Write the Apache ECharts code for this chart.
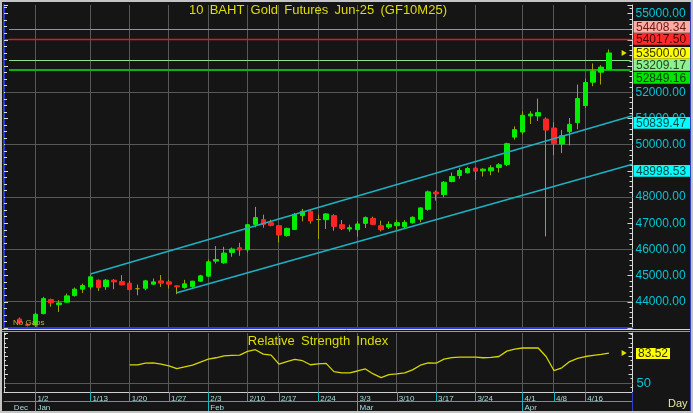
<!DOCTYPE html>
<html>
<head>
<meta charset="utf-8">
<script src="https://cdn.jsdelivr.net/npm/echarts@6/dist/echarts.min.js"></script>
<style>
html,body{margin:0;padding:0;background:#151515;}
#c{width:693px;height:413px;}
</style>
</head>
<body>
<div id="c"></div>
<script>
// ---------------- data ----------------
const dates = ['12/27','12/30','1/2','1/3','1/6','1/7','1/8','1/9','1/10','1/13','1/14','1/15','1/16','1/17','1/20','1/21','1/22','1/23','1/24','1/27','1/28','1/29','1/30','1/31','2/3','2/4','2/5','2/6','2/7','2/10','2/11','2/13','2/14','2/17','2/18','2/19','2/20','2/21','2/24','2/25','2/26','2/27','2/28','3/3','3/4','3/5','3/6','3/7','3/10','3/11','3/12','3/13','3/14','3/17','3/18','3/19','3/20','3/21','3/24','3/25','3/26','3/27','3/28','3/31','4/1','4/2','4/3','4/4','4/8','4/9','4/10','4/11','4/16','4/17','4/18','4/21'];
const leadPad = ['p1','p2'];
const tailPad = ['t1','t2','t3'];

const open = [43344,43140,43114,43547,44084,43892,43984,44237,44482,44570,
 44826,44581,44826,44773,44711,44500,44517,44672,44800,44761,
 44609,44543,44581,44787,44979,45553,45489,45885,46064,45987,
 46956,47136,47020,46906,46524,46764,47289,47455,47140,47136,
 47290,46944,46780,46753,46994,47187,46906,46854,46906,46868,
 47020,47149,47531,48185,48094,48592,48822,48925,49101,48999,
 48999,49128,49242,50288,50481,51093,51093,50978,50633,50023,
 50495,50840,51491,52383,52766,52881];
const close = [43190,43100,43524,44122,43958,43957,44225,44482,44620,44953,
 44543,44826,44761,44646,44466,44500,44800,44761,44711,44672,
 44570,44685,44787,44991,45527,45616,45861,46013,45975,46944,
 47213,46956,46918,46550,46803,47340,47455,47085,47140,47354,
 46880,46803,46830,46971,47213,46956,46753,46956,47020,47033,
 47225,47584,48197,48120,48565,48783,49013,49089,48986,49063,
 49116,49231,50035,50571,51119,51170,51221,50556,50035,50342,
 50774,51758,52371,52804,52958,53500];
const low = [43150,43060,43038,43524,43815,43612,43970,44202,44340,44466,
 44417,44455,44482,44630,44440,44250,44440,44660,44570,44505,
 44290,44500,44493,44760,44953,45462,45450,45719,45757,45884,
 46841,46829,46880,46267,46490,46740,47072,46983,46397,46780,
 46715,46742,46676,46485,46818,46930,46688,46780,46753,46780,
 46980,47034,47480,47864,47990,48560,48695,48900,48656,48783,
 48833,48936,49177,50188,50391,50786,50901,46496,49600,49675,
 49970,50583,51400,52230,52294,52855];
const high = [43400,43170,43585,44187,44122,44061,44313,44543,44696,45030,
 44850,44864,44864,45018,44800,44660,44838,44889,45018,44838,
 44620,44838,44800,45030,45616,46129,46102,46070,46255,46971,
 47622,47327,47136,46930,46830,47392,47545,47490,47327,47380,
 47340,47125,46944,47072,47260,47250,47098,47072,47136,47120,
 47264,47600,48247,48247,48603,48936,49116,49154,49150,49101,
 49215,49292,50074,50698,51272,51272,51758,51040,50851,50556,
 51016,52294,52525,53099,53034,53635];

const rsiStart = '1/20';
const rsiValues = [70.3,70.3,72.2,72.6,71.1,69.2,66.2,68.1,70.0,73.5,
 76.7,78.3,80.5,81.0,81.3,85.4,87.3,82.4,81.3,71.1,
 74.0,76.5,75.0,70.5,71.5,72.0,62.8,61.5,61.5,63.5,
 65.8,60.2,56.1,59.5,60.2,61.5,64.7,70.0,72.6,72.2,
 76.7,78.5,79.0,79.0,79.0,78.3,78.8,79.7,85.7,88.0,
 89.2,89.2,89.2,79.7,64.0,67.0,74.0,77.5,79.7,81.0,
 82.0,83.52];

const upperChannelDates = ['1/13','t3'];
const upperChannelValues = [45061, 51100];
const lowerChannelDates = ['1/28','t3'];
const lowerChannelValues = [44347, 49250];
const channelLabelValues = [50839.47, 48998.53];

const priceLevels = [54408.34, 54017.50, 53209.17, 52849.16];
const priceGridLevels = [44000, 46000, 48000, 50000, 52000, 54000];
const weekLabels = ['1/2','1/13','1/20','1/27','2/3','2/10','2/17','2/24','3/3','3/10','3/17','3/24','4/1','4/8','4/16'];
const monthStarts = ['1/2','2/3','3/3','4/1'];
const monthNames = ['Jan','Feb','Mar','Apr'];
const firstMonthName = 'Dec';
const priceTickMin = 44000;
const rsiTickLabel = 50;

// ---------------- styles ----------------
const FONT = '"Liberation Sans", Arial, sans-serif';
const levelStyles = [
  {line:'#c08080', w:1, bg:'#ffaca2', fg:'#6a1a1a'},
  {line:'#d02222', w:1.5, bg:'#ff2b2b', fg:'#4a0000'},
  {line:'#8ee08e', w:1, bg:'#90ef90', fg:'#1c4a1c'},
  {line:'#10b010', w:2, bg:'#00e400', fg:'#003800'}
];
const lastStyle = {bg:'#ffff00', fg:'#333300'};
const channelStyle = {line:'#1cb2c2', bg:'#00ffff', fg:'#004a4a'};
const WICK = '#a3a300', UP = '#00ee00', DOWN = '#ff2424';
const GRIDC = '#585858', CYAN = '#00c6d6', TICKC = '#19b3c2', DATEC = '#a8dcdc';

const cats = leadPad.concat(dates, tailPad);
const isWeek = (i, v) => weekLabels.indexOf(v) >= 0;
const isMonthTick = (i, v) => monthStarts.indexOf(v) >= 0;
const isMonthLabel = (i, v) => v === leadPad[1] || monthStarts.indexOf(v) >= 0;
const monthName = v => v === leadPad[1] ? firstMonthName : (monthNames[monthStarts.indexOf(v)] || '');

const wickData = dates.map((d, i) => [d, open[i], close[i], low[i], high[i]]);
const bodyData = dates.map((d, i) => [d, open[i], close[i], Math.min(open[i], close[i]), Math.max(open[i], close[i])]);
const rsiOffset = dates.indexOf(rsiStart);
const rsiData = rsiValues.map((v, k) => [dates[rsiOffset + k], v]);
const lastClose = close[close.length - 1];
const lastRsi = rsiValues[rsiValues.length - 1];

const option = {
  backgroundColor: '#151515',
  animation: false,
  textStyle: {fontFamily: FONT},
  grid: [
    {left:4, right:60.5, top:5, bottom:85},
    {left:4, right:60.5, top:333, bottom:21}
  ],
  xAxis: [
    {gridIndex:0, type:'category', data:cats, boundaryGap:false,
     axisLine:{show:true, onZero:false, lineStyle:{color:'#2a3ad6', width:2}},
     axisTick:{show:false}, axisLabel:{show:false}, splitLine:{show:false}},
    {gridIndex:1, type:'category', data:cats, boundaryGap:false, position:'bottom',
     axisLine:{show:true, onZero:false, lineStyle:{color:'#cfcfcf', width:1}},
     axisTick:{show:true, interval:isWeek, length:9, lineStyle:{color:TICKC}},
     axisLabel:{show:true, interval:isWeek, align:'left', margin:3, padding:[0,0,0,2], color:DATEC, fontSize:8, fontFamily:FONT},
     splitLine:{show:false}},
    {gridIndex:1, type:'category', data:cats, boundaryGap:false, position:'bottom', offset:9,
     axisLine:{show:true, onZero:false, lineStyle:{color:TICKC, width:1}},
     axisTick:{show:true, interval:isMonthTick, length:10, lineStyle:{color:TICKC}},
     axisLabel:{show:true, interval:isMonthLabel, formatter:monthName, align:'left', margin:3, padding:[0,0,0,2], color:DATEC, fontSize:8, fontFamily:FONT},
     splitLine:{show:false}}
  ],
  yAxis: [
    {gridIndex:0, type:'value', position:'right', min:43000, max:55330, interval:1000,
     axisLine:{show:true, lineStyle:{color:'#d8d8d8'}},
     axisTick:{show:true, inside:true, length:5, lineStyle:{color:'#d8d8d8'}},
     minorTick:{show:true, splitNumber:5, length:3, lineStyle:{color:'#d8d8d8'}},
     axisLabel:{formatter: v => (v >= priceTickMin && v % 1000 === 0) ? v.toFixed(2) : '', color:CYAN, fontSize:12, margin:3, fontFamily:FONT},
     splitLine:{show:false}},
    {gridIndex:0, type:'value', position:'left', min:43000, max:55330, interval:1000,
     axisLine:{show:true, lineStyle:{color:'#2a3ad6', width:2}},
     axisTick:{show:true, inside:true, length:4, lineStyle:{color:'#e0e0e0'}},
     minorTick:{show:true, splitNumber:4, length:3, lineStyle:{color:'#e0e0e0'}},
     axisLabel:{show:false}, splitLine:{show:false}},
    {gridIndex:1, type:'value', position:'right', min:40, max:106, interval:10,
     axisLine:{show:true, lineStyle:{color:'#d8d8d8'}},
     axisTick:{show:true, inside:true, length:4, lineStyle:{color:'#d8d8d8'}},
     minorTick:{show:true, splitNumber:2, length:2, lineStyle:{color:'#d8d8d8'}},
     axisLabel:{formatter: v => v === rsiTickLabel ? String(v) : '', color:CYAN, fontSize:13, margin:4, fontFamily:FONT},
     splitLine:{show:false}},
    {gridIndex:1, type:'value', position:'left', min:40, max:106, interval:10,
     axisLine:{show:true, lineStyle:{color:'#c8c8c8', width:1}},
     axisTick:{show:true, inside:true, length:4, lineStyle:{color:'#e0e0e0'}},
     minorTick:{show:true, splitNumber:2, length:2, lineStyle:{color:'#e0e0e0'}},
     axisLabel:{show:false}, splitLine:{show:false}}
  ],
  series: [
    {name:'wick', type:'candlestick', xAxisIndex:0, yAxisIndex:0, data:wickData,
     encode:{x:0, y:[1,2,3,4]}, barWidth:1, z:2, silent:true,
     itemStyle:{color:WICK, color0:WICK, borderColor:WICK, borderColor0:WICK, borderColorDoji:WICK, borderWidth:1}},
    {name:'body', type:'candlestick', xAxisIndex:0, yAxisIndex:0, data:bodyData,
     encode:{x:0, y:[1,2,3,4]}, barWidth:5, z:3, silent:true,
     itemStyle:{color:UP, color0:DOWN, borderColor:UP, borderColor0:DOWN, borderColorDoji:WICK, borderWidth:1}},
    {name:'upper', type:'line', xAxisIndex:0, yAxisIndex:0, z:4, silent:true,
     data: upperChannelDates.map((d,k) => [d, upperChannelValues[k]]),
     symbol:'none', lineStyle:{color:channelStyle.line, width:1.5}},
    {name:'lower', type:'line', xAxisIndex:0, yAxisIndex:0, z:4, silent:true,
     data: lowerChannelDates.map((d,k) => [d, lowerChannelValues[k]]),
     symbol:'none', lineStyle:{color:channelStyle.line, width:1.5}},
    {name:'RSI', type:'line', xAxisIndex:1, yAxisIndex:2, data:rsiData, z:3, silent:true,
     showSymbol:false, lineStyle:{color:'#d6d600', width:1.3}}
  ]
};

const chart = echarts.init(document.getElementById('c'), null, {renderer:'canvas', width:693, height:413});
chart.setOption(option);

// ---------- overlays placed through the chart's own scales ----------
const P0 = (x, y) => chart.convertToPixel({xAxisIndex:0, yAxisIndex:0}, [x, y]);
const P1 = (x, y) => chart.convertToPixel({xAxisIndex:1, yAxisIndex:2}, [x, y]);
const crisp = v => Math.round(v - 0.5) + 0.5;
const gLine = (x1, y1, x2, y2, stroke, w, z) => ({type:'line', silent:true, z, shape:{x1, y1, x2, y2}, style:{stroke, lineWidth:w}});
const gRect = (x, y, w, h, fill, z) => ({type:'rect', silent:true, z, shape:{x, y, width:w, height:h}, style:{fill}});
const gText = (x, y, t, fill, z, font, align) => ({type:'text', silent:true, z, x, y,
  style:{text:t, fill, font, align: align || 'left', verticalAlign:'middle', textAlign: align || 'left', textVerticalAlign:'middle'}});
const gArrow = (x, y, z) => ({type:'polygon', silent:true, z, shape:{points:[[x - 3, y - 3], [x + 2, y], [x - 3, y + 3]]}, style:{fill:'#e0e000'}});

const g = [];
const xL = P0(cats[0], 50000)[0], xR = P0(cats[cats.length - 1], 50000)[0];
const yTop0 = P0(cats[0], 55330)[1], yBot0 = P0(cats[0], 43000)[1];
const yTop1 = P1(cats[0], 106)[1], yBot1 = P1(cats[0], 40)[1];

weekLabels.forEach(d => {
  const x = crisp(P0(d, 50000)[0]);
  g.push(gLine(x, yTop0, x, yBot0 - 1, GRIDC, 1, 1.2));
  g.push(gLine(x, yTop1, x, yBot1, GRIDC, 1, 1.2));
});
priceGridLevels.forEach(v => { const y = crisp(P0(cats[0], v)[1]); g.push(gLine(xL + 1, y, xR, y, GRIDC, 1, 1.2)); });
{ const y = crisp(P1(cats[0], rsiTickLabel)[1]); g.push(gLine(xL + 1, y, xR, y, GRIDC, 1, 1.2)); }

priceLevels.forEach((v, k) => {
  const y = levelStyles[k].w === 2 ? Math.round(P0(cats[0], v)[1]) : crisp(P0(cats[0], v)[1]);
  g.push(gLine(xL + 5, y, xR - 2, y, levelStyles[k].line, levelStyles[k].w, 1.5));
});

// right-axis value boxes: last price stays put, neighbours are stacked away from it
const BOX_H = 11.8, STEP = 12.3, BOX_X = xR + 1, BOX_W = 57;
const stack = priceLevels.map((v, k) => ({v, st: levelStyles[k]})).concat([{v:lastClose, st:lastStyle, fixed:true}]);
stack.forEach(b => { b.y = P0(cats[0], b.v)[1]; });
stack.sort((a, b) => a.y - b.y);
const fi = stack.findIndex(b => b.fixed);
for (let i = fi - 1; i >= 0; i--) stack[i].y = Math.min(stack[i].y, stack[i + 1].y - STEP);
for (let i = fi + 1; i < stack.length; i++) stack[i].y = Math.max(stack[i].y, stack[i - 1].y + STEP);
const boxes = stack.concat(channelLabelValues.map(v => ({v, st: channelStyle, y: P0(cats[0], v)[1]})));
boxes.forEach(b => {
  g.push(gRect(BOX_X, Math.round(b.y - BOX_H / 2), BOX_W, BOX_H, b.st.bg, 10));
  g.push(gText(BOX_X + 2.5, Math.round(b.y - BOX_H / 2) + BOX_H / 2 + 0.5, b.v.toFixed(2), b.st.fg, 11, '12px ' + FONT));
});
g.push(gArrow(P0(tailPad[1], lastClose)[0], Math.round(P0(tailPad[1], lastClose)[1]), 11));

{ const y = P1(cats[0], lastRsi)[1];
  g.push(gRect(BOX_X + 2.5, Math.round(y - 5.5), 34, 11, '#ffff00', 10));
  g.push(gText(BOX_X + 4.5, Math.round(y - 5.5) + 6, lastRsi.toFixed(2), '#333300', 11, '12px ' + FONT));
  g.push(gArrow(P1(tailPad[1], lastRsi)[0], Math.round(y), 11)); }

// titles, captions and frame
g.push(gText(318, 10, '10\u2009 BAHT\u2009 Gold\u2009 Futures\u2009 Jun-25\u2009 (GF10M25)', '#dede00', 50, '13px ' + FONT, 'center'));
g.push(gText(318, 341, 'Relative\u2009 Strength\u2009 Index', '#dede00', 50, '13px ' + FONT, 'center'));
g.push(gText(13, 323, 'No Gaps', '#b8b040', 50, '8px ' + FONT));
g.push(gText(668, 404, 'Day', '#e8e8a8', 50, '11px ' + FONT));
g.push(gLine(0, 329.5, 693, 329.5, '#d8d8d8', 1, 50));
g.push(gLine(0, 331.5, 693, 331.5, '#9a9a9a', 1, 50));
g.push(gLine(690.5, 2, 690.5, 411, '#3040c0', 1, 50));
g.push(gLine(632.5, 392, 632.5, 411, '#3040c0', 1, 50));
g.push({type:'rect', silent:true, z:60, shape:{x:1, y:1, width:691, height:411}, style:{fill:null, stroke:'#c4c4c4', lineWidth:2}});

chart.setOption({graphic: g});
</script>
</body>
</html>
